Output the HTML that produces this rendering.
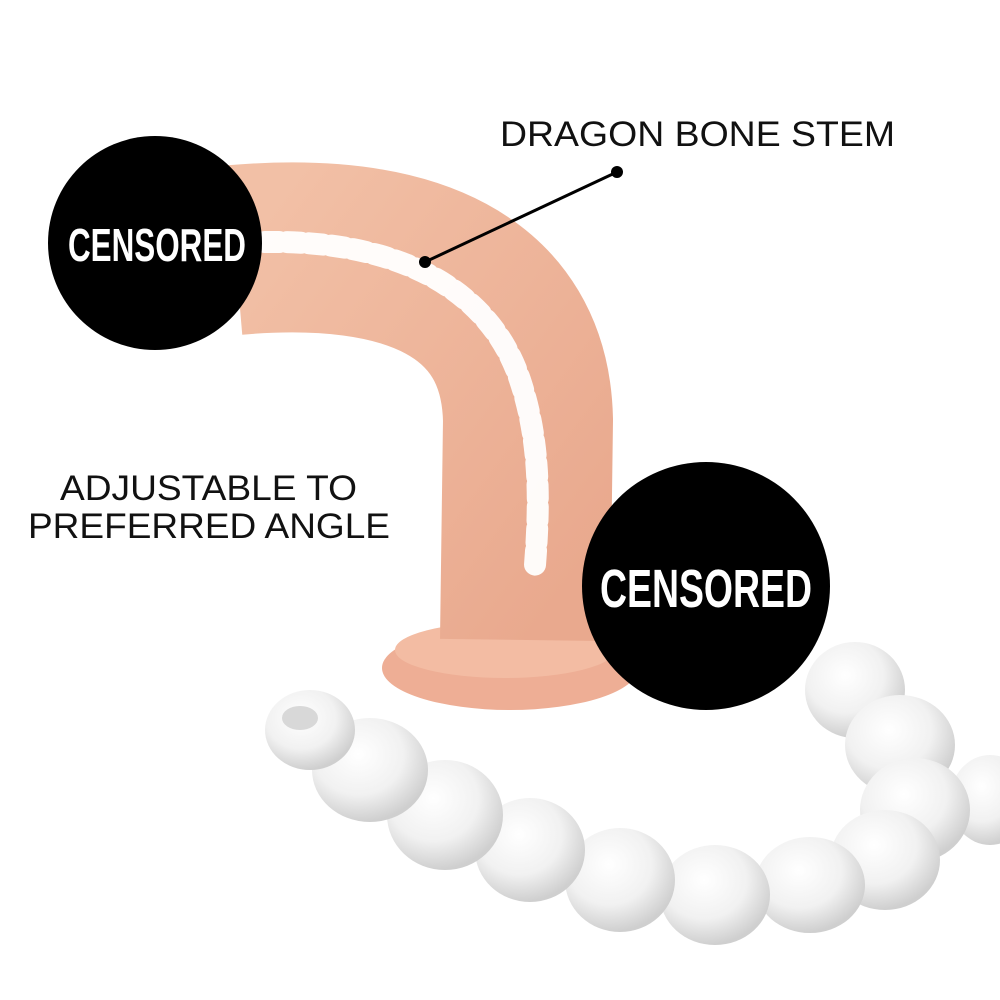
<!DOCTYPE html>
<html><head><meta charset="utf-8"><style>
html,body{margin:0;padding:0;background:#fff;width:1000px;height:1000px;overflow:hidden}
</style></head><body>
<svg width="1000" height="1000" viewBox="0 0 1000 1000" xmlns="http://www.w3.org/2000/svg">
<defs>
<radialGradient id="bead" cx="40%" cy="35%" r="65%">
<stop offset="0" stop-color="#ffffff"/><stop offset="0.6" stop-color="#f1f1f1"/><stop offset="1" stop-color="#cfcfcf"/>
</radialGradient>
<linearGradient id="flesh" x1="0" y1="0" x2="1" y2="1">
<stop offset="0" stop-color="#f2c0a6"/><stop offset="1" stop-color="#e9a98e"/>
</linearGradient>
</defs>
<rect width="1000" height="1000" fill="#fff"/>
<ellipse cx="510" cy="668" rx="128" ry="42" fill="#eeae95"/>
<ellipse cx="505" cy="650" rx="110" ry="28" fill="#f3bca3"/>
<path d="M 235 250 C 410 235, 525 285, 528 420 L 525 640" fill="none" stroke="url(#flesh)" stroke-width="170" stroke-linecap="butt"/>
<path d="M 265 242 C 400 240, 490 290, 520 380 C 540 440, 540 500, 535 565" fill="none" stroke="#ffffff" stroke-width="22" stroke-dasharray="14 8" stroke-linecap="round" opacity="0.95"/>
<g fill="url(#bead)">
<ellipse cx="990" cy="800" rx="40" ry="45"/>
<ellipse cx="855" cy="690" rx="50" ry="48"/>
<ellipse cx="900" cy="745" rx="55" ry="50"/>
<ellipse cx="915" cy="810" rx="55" ry="52"/>
<ellipse cx="885" cy="860" rx="55" ry="50"/>
<ellipse cx="810" cy="885" rx="55" ry="48"/>
<ellipse cx="715" cy="895" rx="55" ry="50"/>
<ellipse cx="620" cy="880" rx="55" ry="52"/>
<ellipse cx="530" cy="850" rx="55" ry="52"/>
<ellipse cx="445" cy="815" rx="58" ry="55"/>
<ellipse cx="370" cy="770" rx="58" ry="52"/>
<ellipse cx="310" cy="730" rx="45" ry="40"/>
</g>
<ellipse cx="300" cy="718" rx="18" ry="12" fill="#d8d8d8"/>
<line x1="617" y1="172" x2="425" y2="262" stroke="#000" stroke-width="3"/>
<circle cx="617" cy="172" r="6" fill="#000"/>
<circle cx="425" cy="262" r="6" fill="#000"/>
<text x="500" y="146" font-family="Liberation Sans, sans-serif" font-size="35" fill="#111" textLength="395" lengthAdjust="spacingAndGlyphs">DRAGON BONE STEM</text>
<text x="60" y="500" font-family="Liberation Sans, sans-serif" font-size="35" fill="#111" textLength="297" lengthAdjust="spacingAndGlyphs">ADJUSTABLE TO</text>
<text x="28" y="538" font-family="Liberation Sans, sans-serif" font-size="35" fill="#111" textLength="362" lengthAdjust="spacingAndGlyphs">PREFERRED ANGLE</text>
<circle cx="155" cy="243" r="107" fill="#000"/>
<text x="157" y="261" text-anchor="middle" font-family="Liberation Sans Narrow, Liberation Sans, sans-serif" font-weight="bold" font-size="46" fill="#fff" textLength="178" lengthAdjust="spacingAndGlyphs">CENSORED</text>
<circle cx="706" cy="586" r="124" fill="#000"/>
<text x="706" y="607" text-anchor="middle" font-family="Liberation Sans Narrow, Liberation Sans, sans-serif" font-weight="bold" font-size="54" fill="#fff" textLength="212" lengthAdjust="spacingAndGlyphs">CENSORED</text>
</svg>
</body></html>
